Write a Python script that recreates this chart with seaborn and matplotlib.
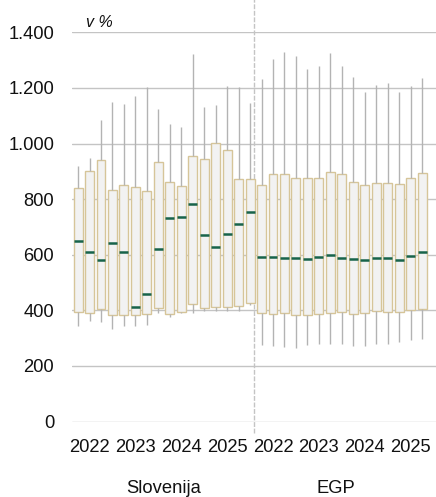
import numpy as np
import pandas as pd
import matplotlib
matplotlib.use("Agg")
import matplotlib.pyplot as plt
import seaborn as sns

# ---- data ----
years = ["2022", "2023", "2024", "2025"]
groups = ["Slovenija", "EGP"]

slo_whisker_high = [919, 947, 1084, 1148, 1142, 1170, 1202, 1123, 1070, 1060, 1322, 1131, 1138, 1208, 1202, 1145]
slo_q3 = [841, 902, 940, 833, 852, 845, 828, 933, 863, 848, 955, 944, 1003, 978, 873, 871]
slo_median = [650, 610, 581, 643, 610, 412, 460, 622, 732, 736, 783, 672, 628, 676, 712, 755]
slo_q1 = [393, 389, 404, 382, 383, 382, 388, 408, 387, 393, 423, 408, 411, 411, 415, 427]
slo_whisker_low = [345, 361, 359, 333, 345, 345, 348, 391, 377, 389, 389, 397, 399, 399, 397, 420]

egp_whisker_high = [1233, 1304, 1329, 1315, 1267, 1280, 1327, 1278, 1238, 1186, 1209, 1216, 1186, 1206, 1235]
egp_q3 = [852, 890, 890, 877, 877, 877, 896, 890, 863, 851, 859, 858, 855, 877, 895]
egp_median = [593, 593, 589, 589, 586, 593, 600, 589, 586, 582, 589, 589, 582, 596, 611]
egp_q1 = [389, 387, 390, 384, 384, 388, 389, 394, 386, 390, 397, 395, 394, 400, 405]
egp_whisker_low = [275, 272, 268, 265, 275, 278, 278, 278, 273, 273, 280, 280, 287, 292, 298]

y_ticks = [0, 200, 400, 600, 800, 1000, 1200, 1400]
y_tick_labels = ["0", "200", "400", "600", "800", "1.000", "1.200", "1.400"]

# ---- build long table: five summary values per box ----
rows = []
series = [
    (0, slo_whisker_low, slo_q1, slo_median, slo_q3, slo_whisker_high),
    (len(slo_median), egp_whisker_low, egp_q1, egp_median, egp_q3, egp_whisker_high),
]
for offset, lo, q1, med, q3, hi in series:
    for i in range(len(med)):
        for v in (lo[i], q1[i], med[i], q3[i], hi[i]):
            rows.append({"pos": offset + i, "value": v})
df = pd.DataFrame(rows)
n_slots = 32

sns.set_style("white")
plt.rcParams["font.family"] = ["Liberation Sans", "DejaVu Sans"]
fs = 13.2

W, H = 436, 497
fig = plt.figure(figsize=(W / 100, H / 100), dpi=100)
ax_left, ax_right = 72.3, 436.0
ax_top, ax_bottom = 32.3, 421.5
ax = fig.add_axes([ax_left / W, (H - ax_bottom) / H, (ax_right - ax_left) / W, (ax_bottom - ax_top) / H])

sns.boxplot(
    data=df, x="pos", y="value", order=list(range(n_slots)), ax=ax,
    whis=(0, 100), width=0.78, showcaps=False, showfliers=False,
    color="#f2f2f2", linecolor="#d6c599", linewidth=1.0, saturation=1,
    whiskerprops=dict(color="#b3b3b3", linewidth=1.0),
    medianprops=dict(color="#17634a", linewidth=1.8),
    boxprops=dict(facecolor="#f2f2f2", edgecolor="#d6c599", linewidth=1.0),
)

spacing = 11.47
xmax = -0.5 + (ax_right - ax_left) / spacing
ax.set_xlim(-0.5, xmax)
ax.set_ylim(0, 1400)

ax.set_yticks(y_ticks)
ax.set_yticklabels(y_tick_labels)
year_pos = [1 + 4 * k for k in range(8)]
ax.set_xticks(year_pos)
ax.set_xticklabels(years + years)
ax.tick_params(axis="y", length=0, pad=13.0, labelsize=fs, colors="#111111")
ax.tick_params(axis="x", length=0, pad=12.5, labelsize=fs, colors="#111111")
ax.set_xlabel("")
ax.set_ylabel("")

ax.grid(axis="y", color="#c4c4c4", linewidth=1.0)
ax.grid(axis="x", visible=False)
ax.set_axisbelow(True)
for s in ax.spines.values():
    s.set_visible(False)

# divider between groups
ax.axvline(15.3, ymin=-0.03, ymax=1.085, color="#c4c4c4", linewidth=1.0,
           linestyle=(0, (3.5, 1.2)), clip_on=False, zorder=0)

# group labels
trans = ax.get_xaxis_transform()
ax.text(7.5, -0.172, groups[0], transform=trans, ha="center", va="center", fontsize=fs, color="#111111")
ax.text(22.5, -0.172, groups[1], transform=trans, ha="center", va="center", fontsize=fs, color="#111111")

# unit label
fig.text(86 / W, 1 - 27 / H, "v %", ha="left", va="baseline", fontsize=11.5, style="italic", color="#111111")

fig.savefig("out.png", dpi=100)
